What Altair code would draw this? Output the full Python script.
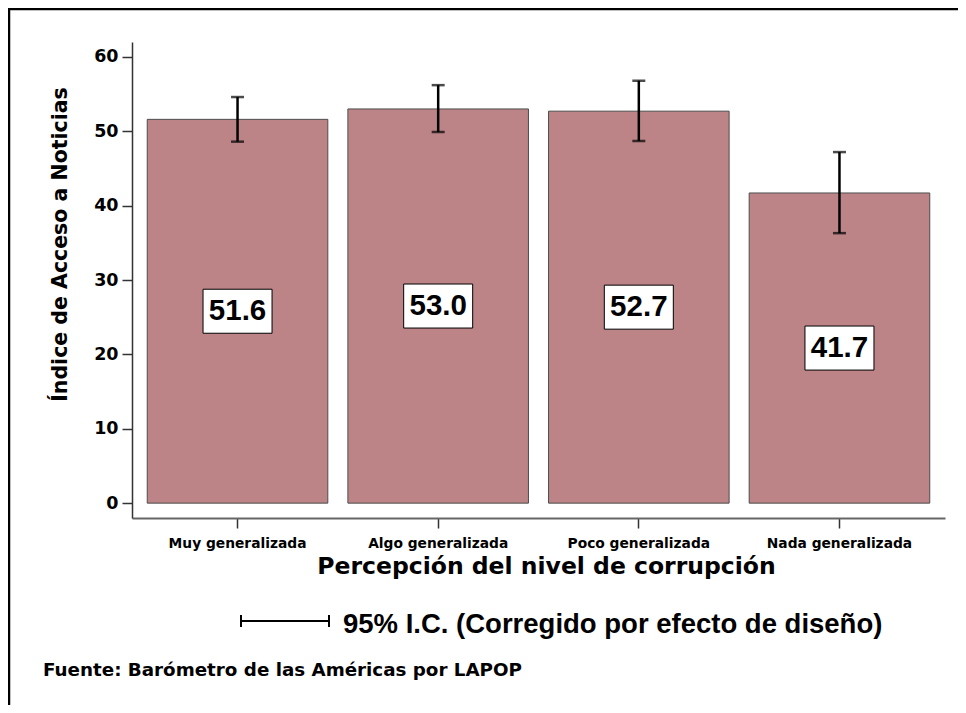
import altair as alt
import pandas as pd

categories = ["Muy generalizada", "Algo generalizada", "Poco generalizada", "Nada generalizada"]
values = [51.6, 53.0, 52.7, 41.7]
ci_low = [48.6, 49.9, 48.7, 36.3]
ci_high = [54.6, 56.2, 56.8, 47.2]

y_title = "Índice de Acceso a Noticias"
x_title = "Percepción del nivel de corrupción"
ci_text = "95% I.C. (Corregido por efecto de diseño)"
source_text = "Fuente: Barómetro de las Américas por LAPOP"

df = pd.DataFrame({"cat": categories, "value": values, "lo": ci_low, "hi": ci_high})

HEAVY = "DejaVu Sans"
ARIAL = "Liberation Sans"

xscale = alt.Scale(paddingInner=0.1, paddingOuter=0.076)
xenc = alt.X(
    "cat:N",
    sort=categories,
    scale=xscale,
    axis=alt.Axis(
        title=x_title, labelAngle=0, labelFont=HEAVY, labelFontWeight="bold",
        labelFontSize=13.8, labelColor="black", labelPadding=8, tickSize=10,
        tickColor="#333", tickWidth=1.5, domainColor="#666", domainWidth=2,
        titleFont=HEAVY, titleFontWeight="bold", titleFontSize=23.5, titleColor="black",
        titleX=414, titleY=48, titleBaseline="middle", titleAlign="center",
    ),
)
xs = alt.X("cat:N", sort=categories, scale=xscale)
yscale = alt.Scale(domain=[-2, 62], nice=False, zero=False)
yenc = alt.Y(
    "value:Q",
    scale=yscale,
    axis=alt.Axis(
        values=[0, 10, 20, 30, 40, 50, 60], title=y_title, grid=False,
        labelFont=HEAVY, labelFontWeight="bold", labelFontSize=17.5, labelColor="black",
        labelPadding=4, tickSize=10, tickColor="#333", tickWidth=1.5,
        domainColor="#333", domainWidth=1.5,
        titleFont=HEAVY, titleFontWeight="bold", titleFontSize=20.5, titleColor="black",
        titleX=-72, titleY=202, titleAngle=270, titleAlign="center", titleBaseline="middle",
    ),
)

base = alt.Chart(df)

bars = base.mark_bar(color="#BC8486", stroke="#4d4d4d", strokeWidth=1).encode(
    x=xenc, y=yenc, y2=alt.datum(0)
)

err = base.mark_rule(color="black", strokeWidth=2.5).encode(
    x=xs, y=alt.Y("lo:Q", scale=yscale), y2="hi:Q"
)
cap_lo = base.mark_tick(color="black", size=13, thickness=2.5, orient="horizontal").encode(
    x=xs, y=alt.Y("lo:Q", scale=yscale)
)
cap_hi = base.mark_tick(color="black", size=13, thickness=2.5, orient="horizontal").encode(
    x=xs, y=alt.Y("hi:Q", scale=yscale)
)

mid = base.transform_calculate(mid="datum.value / 2")
box = mid.mark_point(
    shape="M-1,-0.638L1,-0.638L1,0.638L-1,0.638Z", size=4761, filled=True,
    fill="white", stroke="black", strokeWidth=1, opacity=1,
).encode(x=xs, y=alt.Y("mid:Q", scale=yscale))
labels = mid.mark_text(font=ARIAL, fontWeight="bold", fontSize=29.5, color="black", baseline="middle").encode(
    x=xs, y=alt.Y("mid:Q", scale=yscale), text=alt.Text("value:Q", format=".1f")
)

one = pd.DataFrame({"a": [0]})
frame_left = alt.Chart(one).mark_rule(color="black", strokeWidth=2.5).encode(
    x=alt.value(-123), y=alt.value(-40), y2=alt.value(700)
)
frame_top = alt.Chart(one).mark_rule(color="black", strokeWidth=2.5).encode(
    x=alt.value(-130), x2=alt.value(900), y=alt.value(-33)
)
leg_line = alt.Chart(one).mark_rule(color="black", strokeWidth=2).encode(
    x=alt.value(108), x2=alt.value(198), y=alt.value(579)
)
leg_cap1 = alt.Chart(one).mark_rule(color="black", strokeWidth=2).encode(
    x=alt.value(109), y=alt.value(573), y2=alt.value(585)
)
leg_cap2 = alt.Chart(one).mark_rule(color="black", strokeWidth=2).encode(
    x=alt.value(197), y=alt.value(573), y2=alt.value(585)
)
leg_text = alt.Chart(pd.DataFrame({"t": [ci_text]})).mark_text(
    font=ARIAL, fontWeight="bold", fontSize=27.5, align="left", baseline="middle", color="black"
).encode(x=alt.value(211), y=alt.value(583), text="t:N")
src = alt.Chart(pd.DataFrame({"t": [source_text]})).mark_text(
    font=HEAVY, fontWeight="bold", fontSize=18.3, align="left", baseline="middle", color="black"
).encode(x=alt.value(-89), y=alt.value(629), text="t:N")

chart = alt.layer(
    bars, err, cap_lo, cap_hi, box, labels,
    frame_left, frame_top, leg_line, leg_cap1, leg_cap2, leg_text, src,
).properties(
    width=813, height=476,
    padding={"left": 124, "top": 34, "right": 13, "bottom": 187},
    autosize=alt.AutoSizeParams(type="none"),
    background="white",
).configure_view(strokeWidth=0, stroke="transparent")

chart.save("out.html", embed_options={"renderer": "svg", "actions": False})
